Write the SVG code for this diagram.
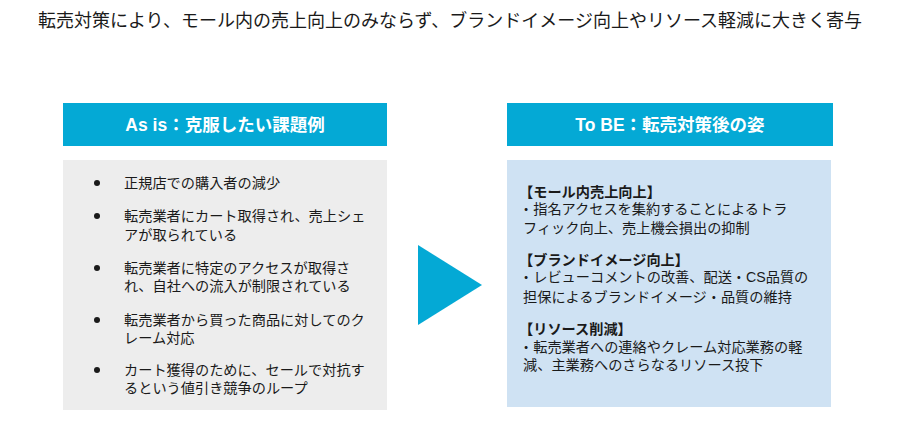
<svg xmlns="http://www.w3.org/2000/svg" width="901" height="428" viewBox="0 0 901 428">
<style>
text{font-family:"Liberation Sans","Noto Sans CJK JP",sans-serif;fill:#1a1a1a}
.title{font-size:18px;text-anchor:middle}
.hdr{fill:#04A9D5}
.htxt{font-size:17.5px;font-weight:bold;fill:#ffffff;text-anchor:middle}
.body{font-size:14.2px}
.b{font-weight:bold}
.dot{fill:#1a1a1a}
</style>
<rect width="901" height="428" fill="#ffffff"/>
<text class="title" x="450" y="27">転売対策により、モール内の売上向上のみならず、ブランドイメージ向上やリソース軽減に大きく寄与</text>
<g id="asis-header">
<rect class="hdr" x="63" y="103" width="324" height="43"/>
<text class="htxt" x="225" y="131">As is：克服したい課題例</text>
</g>
<g id="asis-body">
<rect x="63" y="160" width="324" height="250" fill="#EDEDED"/>
<circle class="dot" cx="97" cy="183" r="3"/>
<text class="body" x="124" y="188">正規店での購入者の減少</text>
<circle class="dot" cx="97" cy="216" r="3"/>
<text class="body" x="124" y="221">転売業者にカート取得され、売上シェ</text>
<text class="body" x="124" y="239.5">アが取られている</text>
<circle class="dot" cx="97" cy="268" r="3"/>
<text class="body" x="124" y="273">転売業者に特定のアクセスが取得さ</text>
<text class="body" x="124" y="291">れ、自社への流入が制限されている</text>
<circle class="dot" cx="97" cy="320" r="3"/>
<text class="body" x="124" y="325">転売業者から買った商品に対してのク</text>
<text class="body" x="124" y="343">レーム対応</text>
<circle class="dot" cx="97" cy="370" r="3"/>
<text class="body" x="124" y="375">カート獲得のために、セールで対抗す</text>
<text class="body" x="124" y="393">るという値引き競争のループ</text>
</g>
<g id="connectors">
<polygon points="418,245 482,285 418,325" fill="#04A9D5"/>
</g>
<g id="tobe-header">
<rect class="hdr" x="507" y="103" width="326" height="43"/>
<text class="htxt" x="670" y="131">To BE：転売対策後の姿</text>
</g>
<g id="tobe-body">
<rect x="507" y="160" width="324" height="247" fill="#CFE2F3"/>
<text class="body b" x="519" y="197">【モール内売上向上】</text>
<text class="body" x="519" y="214">・指名アクセスを集約することによるトラ</text>
<text class="body" x="523" y="233">フィック向上、売上機会損出の抑制</text>
<text class="body b" x="519" y="265">【ブランドイメージ向上】</text>
<text class="body" x="519" y="282">・レビューコメントの改善、配送・CS品質の</text>
<text class="body" x="523" y="302">担保によるブランドイメージ・品質の維持</text>
<text class="body b" x="519" y="334">【リソース削減】</text>
<text class="body" x="519" y="352">・転売業者への連絡やクレーム対応業務の軽</text>
<text class="body" x="523" y="370">減、主業務へのさらなるリソース投下</text>
</g>
</svg>
